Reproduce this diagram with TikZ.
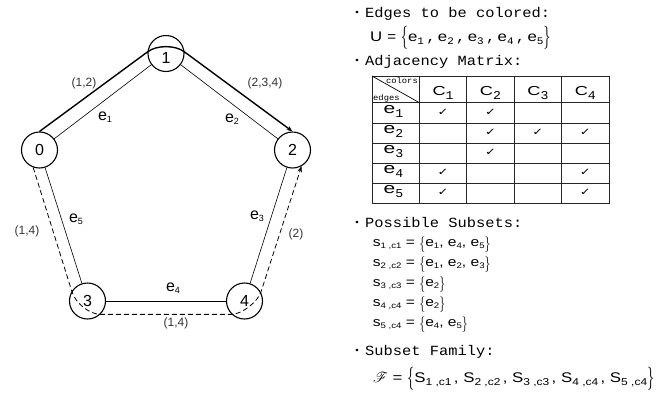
\documentclass[tikz,border=0pt]{standalone}
\usepackage{fontspec}
\usepackage{mathrsfs}
\usetikzlibrary{arrows.meta}
\setmainfont{Liberation Sans}
\newfontfamily\mono{Liberation Mono}[FakeStretch=1.1]
\newfontfamily\wide{Liberation Sans}[FakeStretch=1.4]
\newfontfamily\sw{Liberation Sans}[FakeStretch=1.2]
\newfontfamily\symw{DejaVu Sans}[FakeStretch=1.3]
\newcommand\fs[1]{\fontsize{#1}{#1}\selectfont}
\newcommand\low[1]{\raisebox{-4pt}[\height][\depth]{#1}}
\newcommand\gsub[1]{\raisebox{-2.5pt}{\fs{9}#1}}
\newcommand\usub[1]{\raisebox{-2.5pt}{\mono\fs{10}#1}}
\newcommand\tsub[1]{\raisebox{-4pt}{\mono\fs{12}#1}}
\newcommand\ssub[1]{\raisebox{-2pt}{\fs{8}#1}}
\newcommand\fsub[1]{\raisebox{-2.5pt}{\fs{10}#1}}
\newcommand\cm{{\mono,}}
\newcommand\LB[1]{\raisebox{-0.25ex}{\scalebox{1}[#1]{$\{$}}}
\newcommand\RB[1]{\raisebox{-0.25ex}{\scalebox{1}[#1]{$\}$}}}
\begin{document}
\begin{tikzpicture}[x=1pt,y=-1pt,
  vertex/.style={circle, draw, line width=1.1pt, minimum size=36pt, inner sep=0pt, font=\fs{16}},
  edge/.style={line width=0.6pt},
  route/.style={line width=1.4pt},
  droute/.style={line width=0.8pt, dash pattern=on 5pt off 3pt},
  tip/.style={-{Stealth[length=6pt,width=4.5pt]}},
  elab/.style={font=\fs{16}, inner sep=0pt},
  clab/.style={font=\fs{12}, text=black!80, inner sep=0pt},
  mtext/.style={font=\mono\fs{14}, anchor=base west, inner sep=0pt},
  bul/.style={font=\mono\fs{9}, inner sep=0pt},
  stext/.style={font=\sw\fs{14}, anchor=base west, inner sep=0pt},
  sstext/.style={font=\sw\fs{13}, anchor=base west, inner sep=0pt},
  grid/.style={line width=0.9pt, black!85},
  hd/.style={font=\wide\fs{13}, anchor=base, inner sep=0pt},
  rl/.style={font=\wide\fs{15}, anchor=base, inner sep=0pt},
  ck/.style={font=\symw\fs{10}, inner sep=0pt},
  tiny/.style={font=\mono\fs{8}, inner sep=0pt}
]
\useasboundingbox (0,0) rectangle (665,392);

% ---------- graph ----------
\node[vertex] (n0) at (39.5,150) {0};
\node[vertex] (n1) at (166,53.5) {\low{1}};
\node[vertex] (n2) at (292.5,150) {2};
\node[vertex] (n3) at (87.5,301) {3};
\node[vertex] (n4) at (244.5,301) {4};

\draw[edge] (n0) -- (n1);
\draw[edge] (n1) -- (n2);
\draw[edge] (n2) -- (n4);
\draw[edge] (n4) -- (n3);
\draw[edge] (n3) -- (n0);

\draw[route, tip] (n0.north) -- (n1.175) .. controls +(9,-7) and +(-9,-7) .. (n1.5) -- (n2.north);
\draw[droute, tip] (n0.250) -- (n3.148) .. controls +(4,13) and +(-10,0) .. (n3.-46)
  -- (n4.226) .. controls +(10,0) and +(-3.2,9.5) .. (n4.28) -- (n2.-61);

\node[clab] (l01) at (84,83.5) {(1,2)};
\node[clab] (l12) at (265,83) {(2,3,4)};
\node[clab] (l30) at (27,231) {(1,4)};
\node[clab] (l42) at (296,234) {(2)};
\node[clab] (l34) at (176,323) {(1,4)};
\node[elab] (e1) at (105,117) {e\gsub1};
\node[elab] (e2) at (232,119) {e\gsub2};
\node[elab] (e3) at (257,216) {e\gsub3};
\node[elab] (e4) at (173,288) {e\gsub4};
\node[elab] (e5) at (76,219) {e\gsub5};

% ---------- right text ----------
\node[bul] (b1) at (357,13.5) {•};
\node[mtext] (t1) at (365,17.3) {Edges to be colored:};
\node[stext] (t2) at (370,41.7) {U {\mono=} \LB{1.6}e\usub1\,\cm\,e\usub2\,\cm\,e\usub3\,\cm\,e\usub4\,\cm\,e\usub5\RB{1.6}};
\node[bul] (b2) at (357,61) {•};
\node[mtext] (t3) at (365,65) {Adjacency Matrix:};

% table
\draw[grid] (372,76) rectangle (609,203);
\foreach \xx in {419.4,466.8,514.2,561.6} \draw[grid] (\xx,76) -- (\xx,203);
\foreach \yy in {102.7,123,143,163,183} \draw[grid] (372,\yy) -- (609,\yy);
\draw[line width=0.7pt] (372,76) -- (419.4,102.7);
\node[tiny, anchor=base east] (hc) at (418,83) {colors};
\node[tiny, anchor=base west] (he) at (373,100) {edges};
\node[hd] (c1) at (443.1,95) {C\tsub1};
\node[hd] (c2) at (490.5,95) {C\tsub2};
\node[hd] (c3) at (537.9,95) {C\tsub3};
\node[hd] (c4) at (585.3,95) {C\tsub4};
\node[rl] (r1) at (393.5,113) {e\tsub1};
\node[rl] (r2) at (393.5,133) {e\tsub2};
\node[rl] (r3) at (393.5,153) {e\tsub3};
\node[rl] (r4) at (393.5,173) {e\tsub4};
\node[rl] (r5) at (393.5,193) {e\tsub5};
\node[ck] at (443.1,112) {✓};
\node[ck] at (490.5,112) {✓};
\node[ck] at (490.5,132) {✓};
\node[ck] at (537.9,132) {✓};
\node[ck] at (585.3,132) {✓};
\node[ck] at (490.5,152) {✓};
\node[ck] at (443.1,172) {✓};
\node[ck] at (585.3,172) {✓};
\node[ck] at (443.1,192) {✓};
\node[ck] at (585.3,192) {✓};

\node[bul] (b3) at (357,223.5) {•};
\node[mtext] (t4) at (365,227.3) {Possible Subsets:};
\node[sstext] (s1) at (372.7,246.7) {s\ssub{1 ,c1} = \LB{1.3}e\ssub1, e\ssub4, e\ssub5\RB{1.3}};
\node[sstext] (s2) at (372.7,266.7) {s\ssub{2 ,c2} = \LB{1.3}e\ssub1, e\ssub2, e\ssub3\RB{1.3}};
\node[sstext] (s3) at (372.7,286.3) {s\ssub{3 ,c3} = \LB{1.3}e\ssub2\RB{1.3}};
\node[sstext] (s4) at (372.7,306.3) {s\ssub{4 ,c4} = \LB{1.3}e\ssub2\RB{1.3}};
\node[sstext] (s5) at (372.7,326.3) {s\ssub{5 ,c4} = \LB{1.3}e\ssub4, e\ssub5\RB{1.3}};
\node[bul] (b4) at (357,351) {•};
\node[mtext] (t5) at (365,355) {Subset Family:};
\node[stext] (f) at (373,382.7) {$\mathscr{F}$ = \LB{1.6}S\fsub{1 ,c1}\,, S\fsub{2 ,c2}\,, S\fsub{3 ,c3}\,, S\fsub{4 ,c4}\,, S\fsub{5 ,c4}\RB{1.6}};
\end{tikzpicture}
\end{document}
